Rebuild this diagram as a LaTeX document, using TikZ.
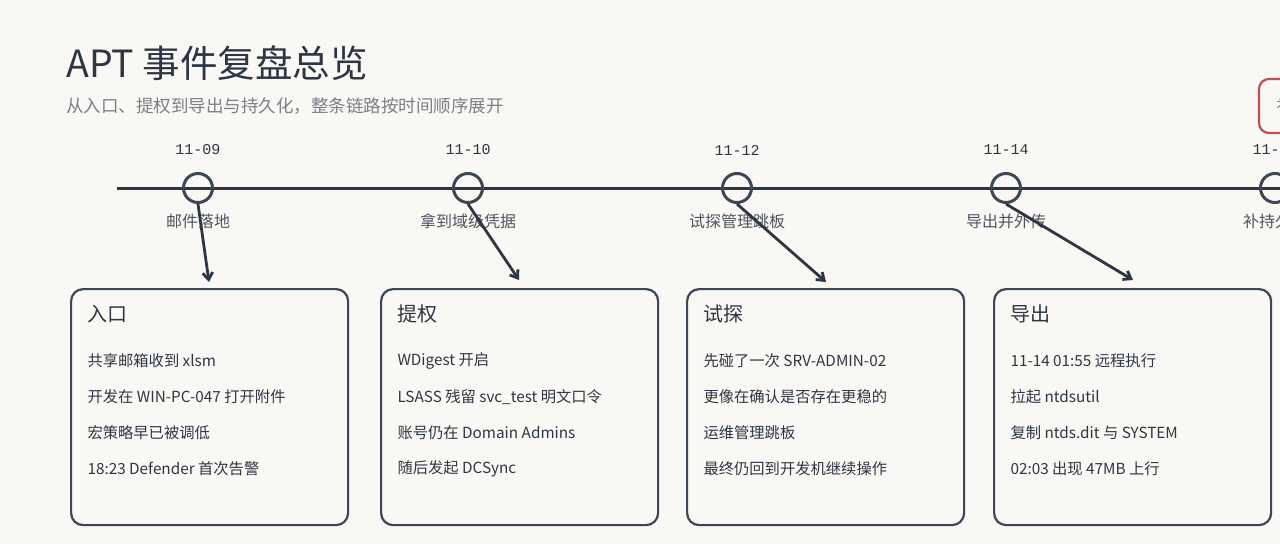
\documentclass[tikz,border=0pt]{standalone}
\usepackage{fontspec}
\setmainfont{Noto Sans CJK SC}
\newfontfamily\datefont{Liberation Mono}
\usetikzlibrary{arrows.meta}
\definecolor{bg}{HTML}{FAF8F4}
\definecolor{ink}{HTML}{2E3644}
\definecolor{edge}{HTML}{3E4756}
\definecolor{sub}{HTML}{7A7F88}
\definecolor{redb}{HTML}{C0504D}
\tikzset{
 card/.style={draw=edge,line width=2.2pt,rounded corners=12pt,fill=bg,minimum width=277pt,minimum height=236pt,anchor=north west},
 dot/.style={circle,draw=edge,line width=3pt,minimum size=29pt,inner sep=0pt},
 date/.style={font=\datefont\fontsize{15}{15}\selectfont,text=ink},
 lab/.style={font=\fontsize{16}{16}\selectfont,text=ink!85},
 ctitle/.style={font=\fontsize{20}{20}\selectfont,text=ink,anchor=west},
 item/.style={font=\fontsize{15.3}{15}\selectfont,text=ink,anchor=west},
 arr/.style={-{Straight Barb[length=7pt,width=10pt]},line width=2.8pt,draw=ink}
}
\begin{document}
\begin{tikzpicture}[x=1pt,y=-1pt]
\fill[bg] (0,0) rectangle (1280,544);
\useasboundingbox (0,0) rectangle (1280,544);
\begin{scope}
\clip (0,0) rectangle (1280,544);
\node[anchor=west,font=\fontsize{37.5}{37}\selectfont,text=ink,inner sep=0] (title) at (66,63) {APT 事件复盘总览};
\node[anchor=west,font=\fontsize{17.5}{17}\selectfont,text=sub,inner sep=0] (subt) at (66,106) {从入口、提权到导出与持久化，整条链路按时间顺序展开};
\draw[redb,line width=2.2pt,rounded corners=10pt,fill=bg] (1259,79) rectangle (1310,133);
\node[text=sub,font=\fontsize{15}{15}\selectfont] (rb) at (1284,106) {补};
\coordinate (ls) at (117,188);
\coordinate (le) at (1290,188);
\draw[ink,line width=3pt] (ls) -- (le);
\foreach \i/\x/\d/\l in {1/198/11-09/邮件落地,2/468/11-10/拿到域级凭据,3/737/11-12/试探管理跳板,4/1006/11-14/导出并外传,5/1275/11-15/补持久化}{
  \node[dot] (c\i) at (\x,188) {};
  \node[date] (d\i) at (\x,150) {\d};
  \node[lab] (l\i) at (\x,221) {\l};
}
\node[card] (k1) at (70,288) {};
\node[card] (k2) at (380,288) {};
\node[card] (k3) at (686,288) {};
\node[card] (k4) at (993,288) {};
\foreach \k/\x/\t/\a/\b/\c/\e in {
 1/70/入口/共享邮箱收到 xlsm/开发在 WIN-PC-047 打开附件/宏策略早已被调低/18:23 Defender 首次告警,
 2/380/提权/WDigest 开启/LSASS 残留 svc\_test 明文口令/账号仍在 Domain Admins/随后发起 DCSync,
 3/686/试探/先碰了一次 SRV-ADMIN-02/更像在确认是否存在更稳的/运维管理跳板/最终仍回到开发机继续操作,
 4/993/导出/11-14 01:55 远程执行/拉起 ntdsutil/复制 ntds.dit 与 SYSTEM/02:03 出现 47MB 上行}{
 \node[ctitle] (t\k) at (\x+14,314) {\t};
 \node[item] (a\k) at (\x+14,361) {\a};
 \node[item] (b\k) at (\x+14,397) {\b};
 \node[item] (cc\k) at (\x+14,433) {\c};
 \node[item] (e\k) at (\x+14,469) {\e};
}
\coordinate (p1) at (209,282);
\coordinate (p2) at (519,280);
\coordinate (p3) at (826,282);
\coordinate (p4) at (1133,280);
\foreach \i in {1,2,3,4}{\draw[arr] (c\i.south) -- (p\i);}
\end{scope}
\end{tikzpicture}
\end{document}
